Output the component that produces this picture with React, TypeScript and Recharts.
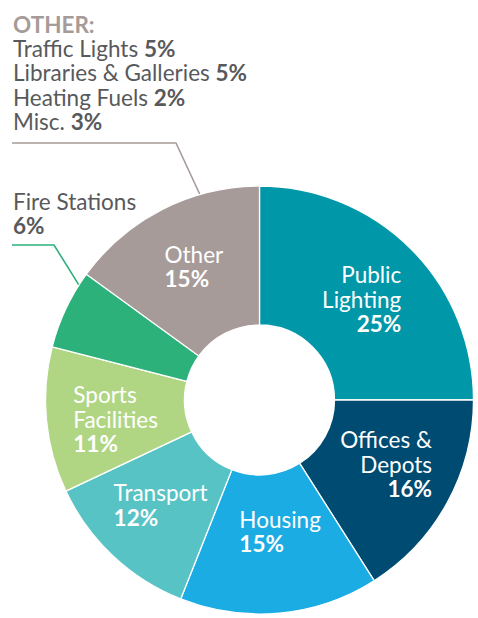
import React from 'react';
import { PieChart, Pie, Cell } from 'recharts';

const categories = ['Public Lighting', 'Offices & Depots', 'Housing', 'Transport', 'Sports Facilities', 'Fire Stations', 'Other'];
const shares = [25, 16, 15, 12, 11, 6, 15];
const labelLines = [['Public', 'Lighting'], ['Offices &', 'Depots'], ['Housing'], ['Transport'], ['Sports', 'Facilities'], ['Fire Stations'], ['Other']];
const colors = ['#0097A9', '#004B72', '#1BACE3', '#57C3C5', '#B0D684', '#2DB17A', '#A69B98'];

const otherNames = ['Traffic Lights', 'Libraries & Galleries', 'Heating Fuels', 'Misc.'];
const otherShares = [5, 5, 2, 3];

const data = categories.map((name, i) => ({ name, value: shares[i] }));

const W = 478;
const H = 618;
const CX = 259.5;
const CY = 400;
const OUTER = 214;
const INNER = 75;
const FONT = 'Lato, "Source Sans Pro", sans-serif';
const FS = 22.5;
const LH = 24.5;
const GREY_TEXT = '#58595B';

// inside label alignment + small nudges, matching the original layout
const align: ('start' | 'end' | 'middle')[] = ['end', 'end', 'start', 'start', 'start', 'start', 'start'];
const nudge = [
  [0, 2], [0, -5], [7, -12], [0, 0], [0, 6], [0, 0], [0, -4],
];

const RAD = Math.PI / 180;
const polar = (r: number, angle: number) => ({
  x: CX + r * Math.cos(-angle * RAD),
  y: CY + r * Math.sin(-angle * RAD),
});

let ctx: CanvasRenderingContext2D | null = null;
const measure = (text: string, bold: boolean) => {
  if (!ctx) ctx = document.createElement('canvas').getContext('2d');
  if (!ctx) return text.length * FS * 0.5;
  ctx.font = `${bold ? 700 : 400} ${FS}px ${FONT}`;
  return ctx.measureText(text).width;
};

const total = shares.reduce((a, b) => a + b, 0);
const sliceAngles = (() => {
  let acc = 0;
  return shares.map((v) => {
    const start = 90 - (acc / total) * 360;
    acc += v;
    const end = 90 - (acc / total) * 360;
    return { start, end };
  });
})();

function pointInSlice(i: number, frac: number) {
  const { start, end } = sliceAngles[i];
  return polar(OUTER + 0.5, start + (end - start) * frac);
}

function renderLabel(props: any) {
  const i = props.index as number;
  const pct = `${shares[i]}%`;

  if (categories[i] === 'Fire Stations') {
    const end = pointInSlice(i, 0.84);
    return (
      <g key={`lbl-${i}`}>
        <text x={13} y={210} fontFamily={FONT} fontSize={FS} fill={GREY_TEXT}>{labelLines[i][0]}</text>
        <text x={13} y={234} fontFamily={FONT} fontSize={FS} fontWeight={700} fill={GREY_TEXT}>{pct}</text>
        <polyline points={`12,245 54,245 ${end.x},${end.y}`} fill="none" stroke={colors[i]} strokeWidth={1.6} />
      </g>
    );
  }

  const mid = (sliceAngles[i].start + sliceAngles[i].end) / 2;
  const p = polar((INNER + OUTER) / 2, mid);
  const lines = [...labelLines[i], pct];
  const widths = lines.map((t, k) => measure(t, k === lines.length - 1));
  const maxW = Math.max(...widths);
  const a = align[i];
  const x = (a === 'end' ? p.x + maxW / 2 : a === 'start' ? p.x - maxW / 2 : p.x) + nudge[i][0];
  const y0 = p.y - ((lines.length - 1) * LH) / 2 + 8 + nudge[i][1];

  const block = (
    <text fontFamily={FONT} fontSize={FS} fill="#ffffff" textAnchor={a}>
      {lines.map((t, k) => (
        <tspan key={k} x={x} y={y0 + k * LH} fontWeight={k === lines.length - 1 ? 700 : 400}>{t}</tspan>
      ))}
    </text>
  );

  if (categories[i] !== 'Other') return <g key={`lbl-${i}`}>{block}</g>;

  const end = pointInSlice(i, 0.7);
  return (
    <g key={`lbl-${i}`}>
      {block}
      <text x={13} y={33} fontFamily={FONT} fontSize={FS} fontWeight={700} fill={colors[i]}>OTHER:</text>
      {otherNames.map((n, k) => (
        <text key={n} x={13} y={57 + k * 24.4} fontFamily={FONT} fontSize={FS} fill={GREY_TEXT}>
          {n} <tspan fontWeight={700}>{otherShares[k]}%</tspan>
        </text>
      ))}
      <polyline points={`12,143 176,143 ${end.x},${end.y}`} fill="none" stroke={colors[i]} strokeWidth={1.6} />
    </g>
  );
}

export default function App() {
  return (
    <div style={{ width: W, height: H, background: '#ffffff' }}>
      <style>{'body{margin:0}'}</style>
      <PieChart width={W} height={H} margin={{ top: 0, right: 0, bottom: 0, left: 0 }}>
        <Pie
          data={data}
          dataKey="value"
          nameKey="name"
          cx={CX}
          cy={CY}
          outerRadius={OUTER}
          innerRadius={INNER}
          startAngle={90}
          endAngle={-270}
          stroke="#ffffff"
          strokeWidth={1.3}
          label={renderLabel}
          labelLine={false}
          isAnimationActive={false}
        >
          {data.map((d, i) => (
            <Cell key={d.name} fill={colors[i]} />
          ))}
        </Pie>
      </PieChart>
    </div>
  );
}
